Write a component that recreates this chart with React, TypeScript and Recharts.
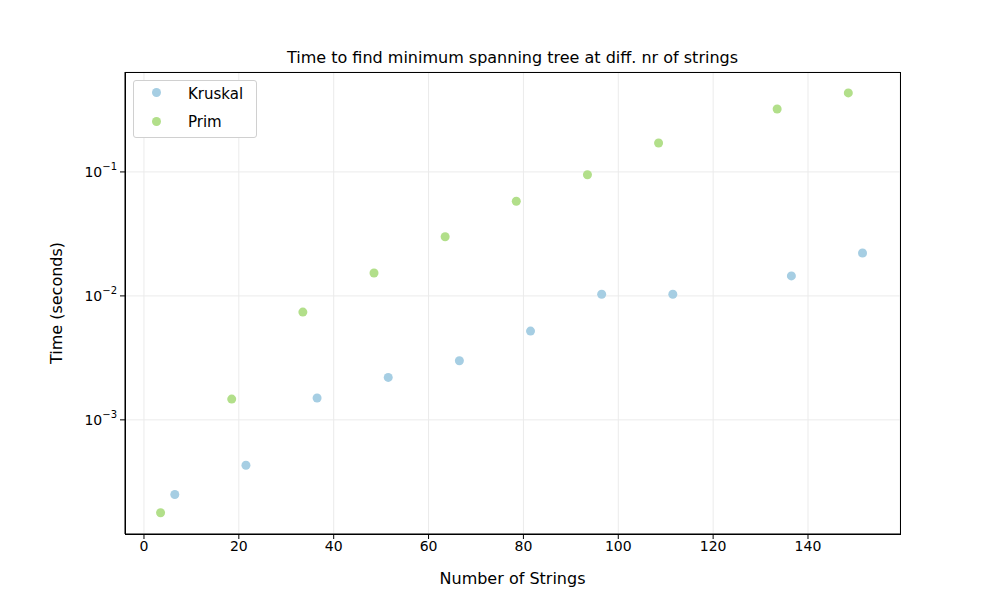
import { ScatterChart, Scatter, XAxis, YAxis, CartesianGrid } from 'recharts';

const kruskalX = [6.5, 21.5, 36.5, 51.5, 66.5, 81.5, 96.5, 111.5, 136.5, 151.5];
const kruskalY = [2.5e-4, 4.3e-4, 1.5e-3, 2.2e-3, 3.0e-3, 5.2e-3, 1.03e-2, 1.03e-2, 1.45e-2, 2.22e-2];
const primX = [3.5, 18.5, 33.5, 48.5, 63.5, 78.5, 93.5, 108.5, 133.5, 148.5];
const primY = [1.78e-4, 1.47e-3, 7.4e-3, 1.53e-2, 3.0e-2, 5.8e-2, 9.5e-2, 0.171, 0.322, 0.434];
const xTicks = [0, 20, 40, 60, 80, 100, 120, 140];
const yTicks = [0.001, 0.01, 0.1];

const kruskal = kruskalX.map((x, i) => ({ x, y: kruskalY[i] }));
const prim = primX.map((x, i) => ({ x, y: primY[i] }));

const font = 'DejaVu Sans, sans-serif';

const YTick = (props: any) => {
    const { x, y, payload } = props;
    const exp = Math.round(Math.log10(payload.value));
    return (
        <text x={x} y={y + 5} textAnchor="end" fontSize={14} fontFamily={font} fill="#000">
            10<tspan dy={-7} fontSize={10}>{'\u2212' + Math.abs(exp)}</tspan>
        </text>
    );
};

const Dot = (color: string) => (props: any) => (
    <circle cx={props.cx} cy={props.cy} r={4.5} fill={color} />
);

export default function App() {
    return (
        <div style={{ position: 'absolute', left: 0, top: 0, width: 1000, height: 600, background: '#fff', fontFamily: font }}>
            <ScatterChart width={1000} height={600} margin={{ top: 72, right: 100, bottom: 36, left: 65 }}>
                <CartesianGrid stroke="#ebebeb" />
                <XAxis type="number" dataKey="x" domain={[-4, 159.4]} ticks={xTicks} allowDataOverflow
                    stroke="#000" tick={{ fill: '#000', fontSize: 14, fontFamily: font }} tickSize={5} height={30} />
                <YAxis type="number" dataKey="y" scale="log" domain={[1.2e-4, 0.64]} ticks={yTicks} allowDataOverflow
                    stroke="#000" tickSize={5} tickMargin={3} tick={<YTick />} width={60} />
                <Scatter data={kruskal} fill="#a6cee3" shape={Dot('#a6cee3')} isAnimationActive={false} />
                <Scatter data={prim} fill="#b2df8a" shape={Dot('#b2df8a')} isAnimationActive={false} />
            </ScatterChart>
            <div style={{ position: 'absolute', left: 125, top: 72, width: 774, height: 461, border: '1px solid #000', pointerEvents: 'none' }} />
            <div style={{ position: 'absolute', left: 125, width: 775, top: 48, textAlign: 'center', fontSize: 16 }}>
                Time to find minimum spanning tree at diff. nr of strings
            </div>
            <div style={{ position: 'absolute', left: 125, width: 775, top: 569, textAlign: 'center', fontSize: 16 }}>
                Number of Strings
            </div>
            <div style={{ position: 'absolute', left: 56, top: 303, fontSize: 16, transform: 'translate(-50%, -50%) rotate(-90deg)', whiteSpace: 'nowrap' }}>
                Time (seconds)
            </div>
            <div style={{ position: 'absolute', left: 133, top: 80, width: 122, height: 56, border: '1px solid #d0d0d0', borderRadius: 3, background: '#fff', fontSize: 15 }}>
                <div style={{ position: 'absolute', left: 18, top: 7, width: 9, height: 9, borderRadius: 5, background: '#a6cee3' }} />
                <div style={{ position: 'absolute', left: 54, top: 4 }}>Kruskal</div>
                <div style={{ position: 'absolute', left: 18, top: 36, width: 9, height: 9, borderRadius: 5, background: '#b2df8a' }} />
                <div style={{ position: 'absolute', left: 54, top: 32 }}>Prim</div>
            </div>
        </div>
    );
}
